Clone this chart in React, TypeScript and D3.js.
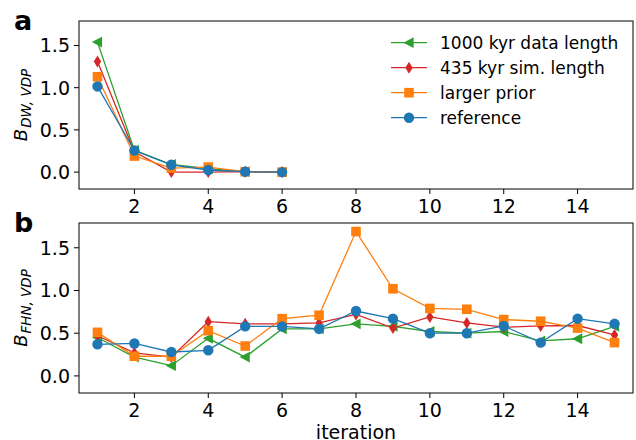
import React from "react";
import * as d3 from "d3";

const iterA = [1, 2, 3, 4, 5, 6];
const greenA = [1.54, 0.26, 0.09, 0.04, 0.005, 0.0];
const redA = [1.31, 0.24, 0.0, 0.0, 0.005, 0.0];
const orangeA = [1.13, 0.19, 0.047, 0.06, 0.005, 0.0];
const blueA = [1.015, 0.256, 0.087, 0.025, 0.005, 0.0];

const iterB = [1, 2, 3, 4, 5, 6, 7, 8, 9, 10, 11, 12, 13, 14, 15];
const greenB = [0.45, 0.22, 0.12, 0.44, 0.22, 0.55, 0.55, 0.61, 0.58, 0.52, 0.5, 0.52, 0.41, 0.435, 0.58];
const redB = [0.47, 0.27, 0.22, 0.635, 0.61, 0.61, 0.62, 0.72, 0.56, 0.69, 0.62, 0.57, 0.585, 0.59, 0.48];
const orangeB = [0.51, 0.23, 0.23, 0.53, 0.35, 0.67, 0.71, 1.69, 1.02, 0.79, 0.78, 0.66, 0.64, 0.56, 0.39];
const blueB = [0.37, 0.38, 0.28, 0.3, 0.58, 0.58, 0.55, 0.76, 0.67, 0.5, 0.5, 0.585, 0.39, 0.67, 0.61];

const seriesNames = ["1000 kyr data length", "435 kyr sim. length", "larger prior", "reference"];
const seriesColors = ["#2ca02c", "#d62728", "#ff7f0e", "#1f77b4"];
const seriesMarkers = ["tri", "diamond", "square", "circle"];

const xTicks = [2, 4, 6, 8, 10, 12, 14];
const yTicks = [0, 0.5, 1.0, 1.5];

const W = 636;
const H = 440;
const left = 79;
const right = 633;
const font = "DejaVu Sans, sans-serif";

function markerPath(kind: string, cx: number, cy: number): string {
  const p = d3.path();
  if (kind === "circle") {
    p.moveTo(cx + 5.2, cy);
    p.arc(cx, cy, 5.2, 0, Math.PI * 2);
  } else if (kind === "square") {
    p.rect(cx - 4.8, cy - 4.8, 9.6, 9.6);
  } else if (kind === "diamond") {
    p.moveTo(cx, cy - 6);
    p.lineTo(cx + 3.7, cy);
    p.lineTo(cx, cy + 6);
    p.lineTo(cx - 3.7, cy);
    p.closePath();
  } else {
    p.moveTo(cx - 5.6, cy);
    p.lineTo(cx + 4.6, cy - 5.4);
    p.lineTo(cx + 4.6, cy + 5.4);
    p.closePath();
  }
  return p.toString();
}

type PanelProps = {
  top: number;
  bottom: number;
  xs: number[];
  ys: number[][];
  label: string;
  labelY: number;
  sub: string;
  legend: boolean;
};

const Panel = ({ top, bottom, xs, ys, label, labelY, sub, legend }: PanelProps) => {
  const x = d3.scaleLinear().domain([0.5, 15.5]).range([left, right]);
  const y = d3.scaleLinear().domain([-0.2, 1.79]).range([bottom, top]);
  const line = d3
    .line<number>()
    .x((_, i) => x(xs[i]))
    .y((d) => y(d));
  const midY = (top + bottom) / 2;
  return (
    <g>
      <text x={14} y={labelY} fontFamily={font} fontWeight="bold" fontSize={27}>
        {label}
      </text>
      {ys.map((vals, si) => (
        <g key={si}>
          <path d={line(vals) || ""} fill="none" stroke={seriesColors[si]} strokeWidth={1.3} />
          {vals.map((v, i) => (
            <path key={i} d={markerPath(seriesMarkers[si], x(xs[i]), y(v))} fill={seriesColors[si]} />
          ))}
        </g>
      ))}
      <rect x={left} y={top} width={right - left} height={bottom - top} fill="none" stroke="#000" strokeWidth={1} />
      {xTicks.map((t) => (
        <g key={t}>
          <line x1={x(t)} x2={x(t)} y1={bottom} y2={bottom + 5} stroke="#000" />
          <text x={x(t)} y={bottom + 24} textAnchor="middle" fontFamily={font} fontSize={19}>
            {t}
          </text>
        </g>
      ))}
      {yTicks.map((t) => (
        <g key={t}>
          <line x1={left - 5} x2={left} y1={y(t)} y2={y(t)} stroke="#000" />
          <text x={left - 9} y={y(t)} dy="0.36em" textAnchor="end" fontFamily={font} fontSize={19}>
            {t.toFixed(1)}
          </text>
        </g>
      ))}
      <text
        transform={`translate(27,${midY}) rotate(-90)`}
        textAnchor="middle"
        fontFamily={font}
        fontStyle="italic"
        fontSize={18}
      >
        B
        <tspan fontSize={13.5} dx={1} dy={4}>
          {sub}
        </tspan>
      </text>
      {legend &&
        seriesNames.map((n, i) => {
          const ly = 42.7 + i * 25;
          return (
            <g key={n}>
              <line x1={391} x2={427} y1={ly} y2={ly} stroke={seriesColors[i]} strokeWidth={1.3} />
              <path d={markerPath(seriesMarkers[i], 409, ly)} fill={seriesColors[i]} />
              <text x={440} y={ly} dy="0.36em" fontFamily={font} fontSize={17}>
                {n}
              </text>
            </g>
          );
        })}
    </g>
  );
};

export default function App() {
  return (
    <div style={{ position: "absolute", left: 0, top: 0 }}>
      <svg width={W} height={H} style={{ display: "block", background: "#fff" }}>
        <Panel top={21} bottom={189} xs={iterA} ys={[greenA, redA, orangeA, blueA]} label="a" labelY={30} sub="DW, VDP" legend={true} />
        <Panel top={223} bottom={393} xs={iterB} ys={[greenB, redB, orangeB, blueB]} label="b" labelY={232} sub="FHN, VDP" legend={false} />
        <text x={(left + right) / 2} y={439} textAnchor="middle" fontFamily={font} fontSize={19}>
          iteration
        </text>
      </svg>
    </div>
  );
}
